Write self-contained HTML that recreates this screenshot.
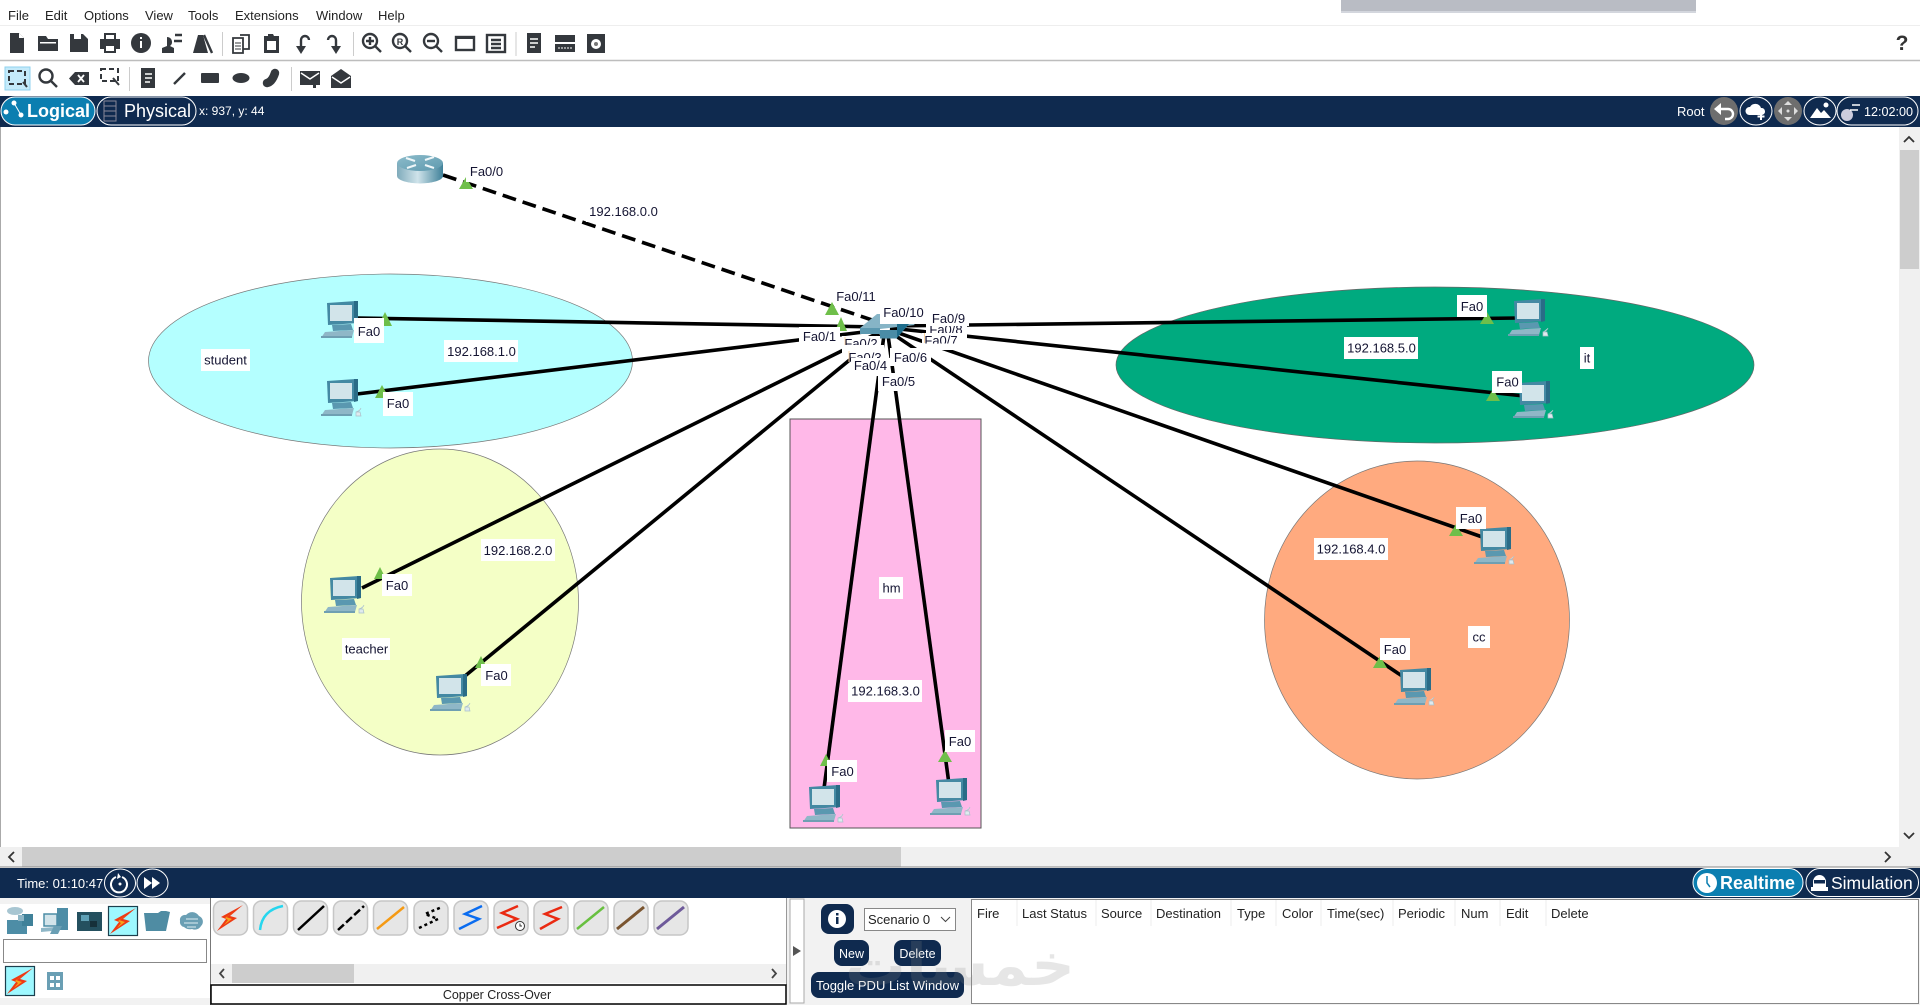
<!DOCTYPE html>
<html><head><meta charset="utf-8"><style>
html,body{margin:0;padding:0;background:#fff;overflow:hidden}
svg{display:block;font-family:"Liberation Sans",sans-serif}
.l{font-size:13px;fill:#141432}
.b{fill:#fff}
.m{font-size:13px;fill:#222}
.h{font-size:13px;fill:#222}
.c{stroke:#000;stroke-width:3.6;fill:none}
.t{fill:#6fbf4a}
.i{fill:#34383d}
.is{stroke:#34383d;stroke-width:2.4;fill:none}
.cb{fill:#e6e6e6;stroke:#c6c6c6;stroke-width:1.5}
</style></head><body>
<svg xmlns="http://www.w3.org/2000/svg" width="1920" height="1005" viewBox="0 0 1920 1005">
<defs>
<linearGradient id="rt" x1="0" x2="1" y1="0" y2="0"><stop offset="0" stop-color="#7fabbb"/><stop offset=".45" stop-color="#cfe3ea"/><stop offset="1" stop-color="#3f8199"/></linearGradient>
<linearGradient id="rtop" x1="0" x2="1" y1="0" y2="1"><stop offset="0" stop-color="#8dbccb"/><stop offset="1" stop-color="#5d99ae"/></linearGradient>
<symbol id="pc" viewBox="0 0 44 40" width="44" height="40">
<polygon points="7,3 36,1 38,2 38,23 8,25" fill="#4489a3"/>
<polygon points="34,1 38,1 38,23 34,24" fill="#2a6c87"/>
<rect x="10" y="5" width="22" height="16" fill="#d2e4ea"/>
<polygon points="12,25 31,24 33,30 13,31" fill="#5a98b0"/>
<polygon points="5,32 34,30 32,37 1,38" fill="#8fb7c7"/>
<rect x="1" y="36" width="31" height="2" fill="#6f9fb2"/>
<path d="M36,34q4-1 5-4M36,34h4l1,4h-5z" fill="#dfeaee" stroke="#a9c0ca" stroke-width=".7"/>
</symbol>
<symbol id="bolt" viewBox="0 0 30 30" width="30" height="30">
<polygon points="28,2 15,13 22,15 2,28 11,16 6,14" fill="#ee3a14"/>
<polygon points="19,9 11,14 17,16 9,22 13,17 10,15" fill="#f8a318"/>
</symbol>
</defs>

<!-- top chrome -->
<rect x="1341" y="0" width="355" height="13" fill="#b9bcc4"/>
<rect x="1341" y="11" width="355" height="2" fill="#d3d6dd"/>
<text class="m" x="8" y="20">File</text><text class="m" x="45" y="20">Edit</text><text class="m" x="84" y="20">Options</text><text class="m" x="145" y="20">View</text><text class="m" x="188" y="20">Tools</text><text class="m" x="235" y="20">Extensions</text><text class="m" x="316" y="20">Window</text><text class="m" x="378" y="20">Help</text>
<line x1="0" y1="25.5" x2="1920" y2="25.5" stroke="#eee"/>
<line x1="0" y1="60.5" x2="1920" y2="60.5" stroke="#bdbdbd" stroke-width="1.5"/>
<!-- toolbar 1 -->
<path class="i" d="M10,33h9l5,5v15H10z"/><path d="M19,33v5h5" fill="#fff"/>
<path class="i" d="M38,36h8l2,3h10v12H38z"/><rect x="40" y="42" width="16" height="1.500" fill="#fff"/>
<path class="i" d="M70,34h13l5,5v13H70z"/><rect x="74" y="34" width="7" height="5" fill="#fff"/>
<path class="i" d="M104,33h12v6h4v10h-4v4h-12v-4h-4V39h4z"/><rect x="106" y="35" width="8" height="4" fill="#fff"/><rect x="106" y="46" width="8" height="5" fill="#fff"/>
<circle class="i" cx="141" cy="43" r="10"/><rect x="140" y="41" width="2" height="7" fill="#fff"/><rect x="140" y="37" width="2" height="2" fill="#fff"/>
<path class="i" d="M167,37a5,5 0 0 1 3,9l4,2v5h-12v-5l5-2z"/><path class="is" d="M175,35h7M174,41h8" stroke-width="1.800"/>
<path class="i" d="M198,35h5l5,18h-15z"/><path d="M204,35l8,18" stroke="#34383d" stroke-width="2.400"/>
<line x1="222.500" y1="32" x2="222.500" y2="56" stroke="#ccc"/>
<path d="M233,38h10v15h-10zM240,35h9v14h-6" stroke="#34383d" stroke-width="1.800" fill="#fff"/><path d="M235,43h6M235,46h6M235,49h6" stroke="#34383d"/>
<path class="i" d="M264,36h4v-2h5l1,2h5v17h-15z"/><rect x="267" y="41" width="9" height="9" fill="#fff"/>
<path class="is" d="M301,48V40a4,4 0 0 1 8,0"/><polygon class="i" points="296,46 306,46 301,54"/>
<path class="is" d="M336,48V40a4,4 0 0 0-8,0"/><polygon class="i" points="331,46 341,46 336,54"/>
<line x1="353.500" y1="32" x2="353.500" y2="56" stroke="#ccc"/>
<circle class="is" cx="370" cy="41" r="7"/><line class="is" x1="375" y1="46" x2="381" y2="52"/><path class="is" d="M366,41h8M370,37v8" stroke-width="1.800"/>
<circle class="is" cx="400" cy="41" r="7"/><line class="is" x1="405" y1="46" x2="411" y2="52"/><text x="400" y="45" font-size="9" font-weight="bold" text-anchor="middle" fill="#34383d">R</text>
<circle class="is" cx="431" cy="41" r="7"/><line class="is" x1="436" y1="46" x2="442" y2="52"/><path class="is" d="M427,41h8" stroke-width="1.800"/>
<rect class="is" x="456" y="37" width="18" height="13"/><rect class="i" x="456" y="36" width="18" height="3"/>
<rect class="is" x="487" y="35" width="18" height="17"/><path class="is" d="M491,40h10M491,44h10M491,48h10" stroke-width="1.500"/>
<line x1="516" y1="32" x2="516" y2="56" stroke="#ccc"/>
<rect class="i" x="527" y="33" width="14" height="20"/><path d="M530,39h8M530,43h8M530,47h5" stroke="#fff" stroke-width="1.500"/>
<rect class="i" x="555" y="35" width="20" height="7"/><rect class="i" x="555" y="44" width="20" height="8"/><path d="M558,48h14" stroke="#fff" stroke-dasharray="2 1"/>
<rect class="i" x="587" y="34" width="18" height="19"/><circle cx="596" cy="44" r="5" fill="#fff"/><circle cx="596" cy="44" r="2" fill="#777"/>
<!-- toolbar 2 -->
<rect x="5" y="67" width="25" height="23" fill="#c4eafa" stroke="#8fd2ef"/>
<rect x="9" y="71" width="16" height="13" fill="none" stroke="#34383d" stroke-width="2" stroke-dasharray="5 3"/><path d="M23,82l4,5" stroke="#34383d" stroke-width="2"/>
<circle class="is" cx="46" cy="76" r="6.500"/><line class="is" x1="51" y1="81" x2="57" y2="87"/>
<path class="i" d="M75,72h14v13H75l-6-6.500z"/><path d="M78,75l6,7M84,75l-6,7" stroke="#fff" stroke-width="1.800"/>
<rect x="101" y="69" width="17" height="12" fill="none" stroke="#34383d" stroke-width="2" stroke-dasharray="5 3"/><path d="M113,78l6,7" stroke="#34383d" stroke-width="2"/>
<line x1="129.500" y1="67" x2="129.500" y2="91" stroke="#ccc"/>
<rect class="i" x="141" y="68" width="14" height="20"/><path d="M145,74h7M145,78h7M145,82h5" stroke="#fff" stroke-width="1.400"/>
<line class="is" x1="174" y1="84" x2="185" y2="73" stroke-width="3"/>
<rect class="i" x="201" y="73" width="18" height="10" rx="1"/>
<ellipse class="i" cx="241" cy="78" rx="8.500" ry="5"/>
<path d="M267,83 Q272,82 275,73" stroke="#34383d" stroke-width="8.500" fill="none" stroke-linecap="round"/>
<line x1="291.500" y1="67" x2="291.500" y2="91" stroke="#ccc"/>
<path class="i" d="M300,71h20v14h-4v3h-3v-3h-13z"/><path d="M301,73l9,6 9-6" stroke="#fff" stroke-width="1.500" fill="none"/>
<path class="i" d="M331,76l10-7 10,7v12h-20z"/><path d="M332,77l9,6 9-6" stroke="#fff" stroke-width="1.500" fill="none"/>
<text x="1902" y="50" font-size="21" font-weight="bold" text-anchor="middle" fill="#333">?</text>

<!-- nav bar -->
<rect x="0" y="96" width="1920" height="31" fill="#0f2a4f"/>
<rect x="1" y="97" width="94" height="28" rx="14" fill="#0b7eb0" stroke="#fff"/>
<circle cx="6" cy="112" r="2.500" fill="#fff"/><circle cx="14" cy="103" r="2.500" fill="#fff"/><circle cx="21" cy="115" r="2.500" fill="#fff"/>
<path d="M14,103L21,115" stroke="#fff" fill="none"/>
<text x="27" y="117" font-size="18" font-weight="bold" fill="#fff">Logical</text>
<rect x="97" y="97" width="99" height="28" rx="14" fill="#0f2a4f" stroke="#fff"/>
<rect x="104" y="101" width="12" height="20" fill="none" stroke="#889"/><path d="M104,106h12M104,111h12M104,116h12" stroke="#889"/>
<text x="124" y="117" font-size="18" fill="#fff">Physical</text>
<text x="199" y="115" font-size="12" fill="#fff">x: 937, y: 44</text>
<text x="1677" y="116" font-size="13" fill="#fff">Root</text>
<circle cx="1724" cy="111" r="14" fill="#6e6e6e"/><path d="M1716,109h12a5,5 0 0 1 0,10h-3" stroke="#fff" stroke-width="2.400" fill="none"/><polygon points="1714,109 1721,103 1721,115" fill="#fff"/>
<ellipse cx="1756" cy="111" rx="16" ry="14" fill="none" stroke="#fff"/><path d="M1749,115a4,4 0 0 1 1-8a6,6 0 0 1 11,1a3.500,3.500 0 0 1 1,7z" fill="#fff"/><path d="M1761,113v7M1757.500,116.500h7" stroke="#fff" stroke-width="2"/>
<circle cx="1788" cy="111" r="14" fill="#6e6e6e"/><polygon points="1788,101 1784,105 1792,105" fill="#ddd"/><polygon points="1788,121 1784,117 1792,117" fill="#ddd"/><polygon points="1778,111 1782,107 1782,115" fill="#ddd"/><polygon points="1798,111 1794,107 1794,115" fill="#ddd"/><circle cx="1788" cy="111" r="1.500" fill="#ddd"/>
<ellipse cx="1820" cy="111" rx="16" ry="14" fill="none" stroke="#fff"/><polygon points="1810,118 1817,108 1821,113 1824,110 1831,118" fill="#fff"/><circle cx="1826" cy="105" r="2.500" fill="#fff"/>
<rect x="1837" y="97" width="81" height="28" rx="14" fill="#0f2a4f" stroke="#fff"/>
<circle cx="1847" cy="115" r="6" fill="#ccd"/><path d="M1852,105h8M1850,110h8" stroke="#fff" stroke-width="1.500"/>
<text x="1864" y="116" font-size="12.600" fill="#fff">12:02:00</text>

<!-- canvas -->
<rect x="0" y="127" width="1899" height="720" fill="#fff"/>
<line x1="0.500" y1="127" x2="0.500" y2="847" stroke="#aaa"/>
<ellipse cx="390.500" cy="361" rx="242" ry="87" fill="#b4ffff" stroke="#777" stroke-width=".7"/>
<ellipse cx="440" cy="602" rx="138.500" ry="153" fill="#f4ffc6" stroke="#777" stroke-width=".7"/>
<rect x="790" y="419" width="191" height="409" fill="#ffb8e8" stroke="#555"/>
<ellipse cx="1435" cy="365" rx="319" ry="78" fill="#00aa7f" stroke="#666" stroke-width=".7"/>
<ellipse cx="1417" cy="620" rx="152.500" ry="159" fill="#ffaa7f" stroke="#777" stroke-width=".7"/>

<line class="c" x1="443" y1="175" x2="872" y2="320" stroke-dasharray="14 7"/>
<line class="c" x1="358" y1="318" x2="880" y2="327"/>
<line class="c" x1="357" y1="394" x2="880" y2="330"/>
<line class="c" x1="362" y1="588" x2="880" y2="332"/>
<line class="c" x1="465" y1="676" x2="880" y2="335"/>
<line class="c" x1="823" y1="796" x2="884" y2="335"/>
<line class="c" x1="949" y1="784" x2="888" y2="335"/>
<line class="c" x1="1408" y1="680" x2="890" y2="332"/>
<line class="c" x1="1488" y1="539" x2="890" y2="330"/>
<line class="c" x1="1524" y1="396" x2="890" y2="328"/>
<line class="c" x1="1518" y1="318" x2="890" y2="326"/>

<!-- router -->
<rect x="397" y="163" width="46" height="13" fill="url(#rt)"/>
<ellipse cx="420" cy="176" rx="23" ry="7.500" fill="url(#rt)"/>
<ellipse cx="420" cy="163" rx="23" ry="8" fill="url(#rtop)"/>
<path d="M406,158l9,3M434,157l-9,3M407,168l9-3M434,168l-9-3" stroke="#eef6f8" stroke-width="2"/>

<!-- switch -->
<polygon points="860,328 877,314 900,314 915,325 880,329" fill="#86b4c6"/>
<rect x="860" y="328" width="20" height="6" fill="#5b98b0"/>
<rect x="880" y="330" width="17" height="8.500" fill="#4a8ca6"/>
<polygon points="897,324 909,324 897,338" fill="#1e6d8c"/>

<!-- triangles -->
<g class="t">
<polygon points="466,177 459,189 473,189"/>
<polygon points="385,312 378,326 392,326"/>
<polygon points="382,385 375,398 389,398"/>
<polygon points="832,302 825,315 839,315"/>
<polygon points="841,317 835,331 847,331"/>
<polygon points="380,567 374,579 386,579"/>
<polygon points="481,656 475,668 487,668"/>
<polygon points="826,754 820,766 832,766"/>
<polygon points="945,750 938,762 952,762"/>
<polygon points="1456,524 1449,536 1463,536"/>
<polygon points="1380,656 1373,668 1387,668"/>
<polygon points="1487,312 1480,324 1494,324"/>
<polygon points="1493,389 1486,401 1500,401"/>
</g>

<!-- PCs -->
<use href="#pc" x="320" y="300"/>
<use href="#pc" x="320" y="378"/>
<use href="#pc" x="323" y="575"/>
<use href="#pc" x="429" y="673"/>
<use href="#pc" x="802" y="784"/>
<use href="#pc" x="929" y="777"/>
<use href="#pc" x="1473" y="526"/>
<use href="#pc" x="1393" y="667"/>
<use href="#pc" x="1507" y="298"/>
<use href="#pc" x="1512" y="380"/>

<!-- overlapped labels near the switch -->
<rect class="b" x="926" y="322" width="41" height="14"/>
<text class="l" x="946" y="334" text-anchor="middle">Fa0/8</text>
<rect class="b" x="922" y="333" width="45" height="17"/>
<text class="l" x="941" y="345" text-anchor="middle">Fa0/7</text>
<rect class="b" x="922" y="343.500" width="45" height="6"/>
<rect class="b" x="842" y="336" width="38" height="10"/>
<text class="l" x="861" y="348" text-anchor="middle">Fa0/2</text>
<rect class="b" x="842" y="345" width="42" height="13"/>
<text class="l" x="865" y="362" text-anchor="middle">Fa0/3</text>
<rect x="844.500" y="337" width="1" height="8" fill="#ffd9a8"/>
<rect x="848.500" y="351" width="1" height="11" fill="#ffd9a8"/>
<rect x="924" y="333" width="1" height="10" fill="#ffd9a8"/>

<!-- labels (white boxes) -->
<g class="b">
<rect x="466" y="162" width="41" height="20"/><rect x="586" y="200" width="75" height="22"/>
<rect x="834" y="288" width="44" height="18"/><rect x="880" y="304" width="47" height="20"/><rect x="928" y="309" width="41" height="17"/>
<rect x="890" y="348" width="41" height="18"/><rect x="799" y="327" width="41" height="18"/><rect x="851" y="358" width="39" height="18"/><rect x="878" y="373" width="40" height="18"/>
<rect x="354" y="318" width="30" height="25"/><rect x="383" y="392" width="30" height="24"/>
<rect x="444" y="340" width="74" height="22"/><rect x="201" y="349" width="49" height="22"/>
<rect x="382" y="574" width="30" height="22"/><rect x="481" y="539" width="74" height="22"/><rect x="342" y="638" width="48" height="22"/><rect x="481" y="664" width="30" height="22"/>
<rect x="879" y="577" width="24" height="22"/><rect x="848" y="680" width="74" height="22"/><rect x="827" y="760" width="30" height="22"/><rect x="945" y="730" width="30" height="22"/>
<rect x="1314" y="538" width="74" height="22"/><rect x="1456" y="507" width="30" height="22"/><rect x="1468" y="626" width="22" height="22"/><rect x="1380" y="638" width="30" height="22"/>
<rect x="1580" y="347" width="14" height="22"/><rect x="1344" y="337" width="74" height="22"/><rect x="1457" y="295" width="30" height="22"/><rect x="1492" y="371" width="30" height="22"/>
</g>
<g class="l" text-anchor="middle">
<text x="486.500" y="176">Fa0/0</text><text x="623.500" y="216">192.168.0.0</text>
<text x="856" y="301">Fa0/11</text><text x="903.500" y="317">Fa0/10</text><text x="948.500" y="323">Fa0/9</text>
<text x="910.500" y="362">Fa0/6</text><text x="819.500" y="341">Fa0/1</text><text x="870.500" y="370">Fa0/4</text><text x="898.500" y="386">Fa0/5</text>
<text x="369" y="336">Fa0</text><text x="398" y="408">Fa0</text>
<text x="481.500" y="356">192.168.1.0</text><text x="225.500" y="364.500">student</text>
<text x="397" y="590">Fa0</text><text x="518" y="555">192.168.2.0</text><text x="366.500" y="653.500">teacher</text><text x="496.500" y="680">Fa0</text>
<text x="891.500" y="592.500">hm</text><text x="885.500" y="695.500">192.168.3.0</text><text x="842.500" y="776">Fa0</text><text x="960" y="746">Fa0</text>
<text x="1351" y="553.500">192.168.4.0</text><text x="1471" y="523">Fa0</text><text x="1479" y="641.500">cc</text><text x="1395" y="654">Fa0</text>
<text x="1587" y="362.500">it</text><text x="1381.500" y="352.500">192.168.5.0</text><text x="1472" y="311">Fa0</text><text x="1507.500" y="386.500">Fa0</text>
</g>

<!-- scrollbars -->
<rect x="1899" y="127" width="21" height="720" fill="#f0f0f0"/>
<rect x="1900" y="150" width="19" height="119" fill="#cdcdcd"/>
<path d="M1904,142l5-5 5,5M1904,833l5,5 5-5" stroke="#333" stroke-width="1.800" fill="none"/>
<rect x="0" y="847" width="1920" height="20" fill="#f0f0f0"/>
<rect x="22" y="847" width="879" height="20" fill="#cdcdcd"/>
<path d="M14,852l-5,5 5,5M1885,852l5,5-5,5" stroke="#333" stroke-width="1.800" fill="none"/>
<line x1="0" y1="867" x2="1920" y2="867" stroke="#888"/>

<!-- time bar -->
<rect x="0" y="868" width="1920" height="30" fill="#0f2a4f"/>
<text x="17" y="888" font-size="13" fill="#fff">Time: 01:10:47</text>
<ellipse cx="120" cy="883" rx="15.500" ry="14" fill="#0f2a4f" stroke="#fff"/>
<path d="M116,877a8,8 0 1 0 6,0" fill="none" stroke="#fff" stroke-width="2"/><path d="M118,873l3,4-4,2z" fill="#fff"/><circle cx="120" cy="884" r="1.500" fill="#fff"/>
<ellipse cx="152.500" cy="883" rx="15.500" ry="14" fill="#0f2a4f" stroke="#fff"/>
<polygon points="144,877 152,883 144,889" fill="#fff"/><polygon points="152,877 160,883 152,889" fill="#fff"/>
<rect x="1693" y="868.500" width="110" height="28" rx="14" fill="#0b7eb0" stroke="#fff"/>
<circle cx="1707" cy="883" r="10" fill="#fff"/><path d="M1707,876v7l3,4" stroke="#0b7eb0" stroke-width="1.500" fill="none"/>
<text x="1720" y="889" font-size="18" font-weight="bold" fill="#fff">Realtime</text>
<rect x="1806" y="868.500" width="112.500" height="28" rx="14" fill="#0f2a4f" stroke="#fff"/>
<path d="M1813,882a6.500,7 0 0 1 13,0v5h2v4h-17v-4h2z" fill="#fff"/><rect x="1814" y="880" width="11" height="3.500" fill="#0f2a4f"/>
<text x="1831" y="889" font-size="17.500" fill="#fff">Simulation</text>

<!-- bottom panel -->
<rect x="0" y="898" width="1920" height="107" fill="#f2f2f2"/>
<rect x="0" y="904" width="210" height="94" fill="#fff"/>
<line x1="210.500" y1="898" x2="210.500" y2="1005" stroke="#777"/>
<!-- device categories -->
<rect x="7" y="920" width="20" height="14" fill="#4d8da6"/><rect x="22" y="914" width="11" height="12" fill="#3f8199"/><ellipse cx="15" cy="911" rx="8" ry="4" fill="#a8c6d2"/><rect x="18" y="915" width="6" height="6" fill="#8fb7c7"/>
<rect x="57" y="908" width="11" height="22" fill="#4d8da6"/><rect x="44" y="914" width="13" height="12" fill="#d2e4ea" stroke="#4d8da6" stroke-width="1.500"/><polygon points="41,928 55,927 52,931 41,932" fill="#8fb7c7"/><polygon points="54,926 62,926 58,934 50,934" fill="#6a9fb4"/>
<rect x="77" y="912" width="25" height="19" fill="#24505f"/><rect x="81" y="915" width="8" height="6" fill="#5fa0b5"/><rect x="90" y="921" width="7" height="6" fill="#16303a"/>
<rect x="108.500" y="906.500" width="29" height="29" fill="#9ef8ff" stroke="#1c3f4e" stroke-width="1.200"/><use href="#bolt" x="108" y="906"/>
<path d="M144,913h14l3-2h5l4,1-4,19h-20z" fill="#4f8ca3"/>
<path d="M180,921a5,5 0 0 1 6-6a8,8 0 0 1 13,1a6,6 0 0 1 2,10a7,7 0 0 1-9,3a9,9 0 0 1-8-2a5,5 0 0 1-4-6z" fill="#6a9fb4"/><path d="M186,919h12M184,923h14M187,927h9" stroke="#b8d3dd" stroke-width="1.500"/>
<rect x="3.500" y="939.500" width="203" height="23" fill="#fff" stroke="#888"/>
<rect x="5.500" y="966.500" width="29" height="29" fill="#9ef8ff" stroke="#1c3f4e" stroke-width="1.200"/><use href="#bolt" x="5" y="966"/>
<rect x="47" y="972" width="16" height="18" fill="#6a9fb4"/><rect x="50" y="976" width="4" height="4" fill="#fff"/><rect x="56" y="976" width="4" height="4" fill="#fff"/><rect x="50" y="983" width="4" height="4" fill="#fff"/><rect x="56" y="983" width="4" height="4" fill="#fff"/>

<!-- cables -->
<rect x="211" y="898" width="575" height="87" fill="#fff"/>
<line x1="786.500" y1="898" x2="786.500" y2="985" stroke="#999"/>
<g>
<rect class="cb" x="213.500" y="901" width="34" height="34" rx="8"/><rect class="cb" x="253.500" y="901" width="34" height="34" rx="8"/><rect class="cb" x="293.500" y="901" width="34" height="34" rx="8"/><rect class="cb" x="333.500" y="901" width="34" height="34" rx="8"/><rect class="cb" x="373.500" y="901" width="34" height="34" rx="8"/><rect class="cb" x="414" y="901" width="34" height="34" rx="8"/><rect class="cb" x="454" y="901" width="34" height="34" rx="8"/><rect class="cb" x="494" y="901" width="34" height="34" rx="8"/><rect class="cb" x="534" y="901" width="34" height="34" rx="8"/><rect class="cb" x="574" y="901" width="34" height="34" rx="8"/><rect class="cb" x="614" y="901" width="34" height="34" rx="8"/><rect class="cb" x="654" y="901" width="34" height="34" rx="8"/>
</g>
<use href="#bolt" x="215" y="903"/>
<path d="M260,930Q262,910 283,906" stroke="#26d6ee" stroke-width="2.500" fill="none"/>
<line x1="298" y1="930" x2="324" y2="906" stroke="#000" stroke-width="2.500"/>
<line x1="338" y1="930" x2="364" y2="906" stroke="#000" stroke-width="2.500" stroke-dasharray="8 3"/>
<line x1="377" y1="929" x2="404" y2="907" stroke="#f59a14" stroke-width="2.500"/>
<path d="M419,928L438,919 425,914 442,907" stroke="#000" stroke-width="2.500" stroke-dasharray="3 3" fill="none"/>
<path d="M459,929L479,919 465,914 482,906" stroke="#0a6cf0" stroke-width="2.500" fill="none"/>
<path d="M497,928L517,919 502,913 518,906" stroke="#ea2a12" stroke-width="2.500" fill="none"/>
<circle cx="520" cy="926" r="4.500" fill="#fff" stroke="#333"/><path d="M520,923.500v2.500h2" stroke="#333" fill="none"/>
<path d="M540,929L558,919 545,914 562,907" stroke="#ea2a12" stroke-width="2.500" fill="none"/>
<line x1="577" y1="929" x2="604" y2="907" stroke="#68c040" stroke-width="2.500"/>
<line x1="617" y1="929" x2="644" y2="907" stroke="#7a5530" stroke-width="3"/>
<line x1="657" y1="929" x2="684" y2="907" stroke="#6e5a9a" stroke-width="3"/>
<rect x="211" y="964" width="575" height="19" fill="#f0f0f0"/>
<rect x="232" y="964" width="122" height="19" fill="#cdcdcd"/>
<path d="M224,969l-4,4.500 4,4.500M772,969l4,4.500-4,4.500" stroke="#444" stroke-width="1.800" fill="none"/>
<rect x="211" y="985" width="575" height="19" fill="#fff" stroke="#000" stroke-width="1.500"/>
<text x="497" y="999" font-size="12.500" text-anchor="middle" fill="#222">Copper Cross-Over</text>

<!-- scenario -->
<rect x="790" y="899" width="14" height="104" fill="#fff" stroke="#aaa"/>
<polygon points="793,946 801,951 793,956" fill="#555"/>
<rect x="821" y="904" width="33" height="30" rx="8" fill="#0f2a4f"/>
<circle cx="837" cy="919" r="9" fill="#fff"/><rect x="836" y="917" width="2.500" height="7" fill="#0f2a4f"/><rect x="836" y="913" width="2.500" height="2.500" fill="#0f2a4f"/>
<rect x="864.500" y="908.500" width="91" height="22" fill="#fff" stroke="#888"/>
<text x="868" y="924" font-size="13" fill="#222">Scenario 0</text>
<path d="M941,917l4.500,4.500 4.500-4.500" stroke="#444" fill="none"/>
<rect x="834" y="940" width="35" height="26" rx="8" fill="#0f2a4f"/>
<text x="851.500" y="958" font-size="12.500" fill="#fff" text-anchor="middle">New</text>
<rect x="894" y="940" width="47" height="26" rx="8" fill="#0f2a4f"/>
<text x="917.500" y="958" font-size="12.500" fill="#fff" text-anchor="middle">Delete</text>
<rect x="811" y="972" width="153" height="26" rx="8" fill="#0f2a4f"/>
<text x="887.500" y="990" font-size="13" fill="#fff" text-anchor="middle">Toggle PDU List Window</text>

<!-- PDU table -->
<rect x="971.500" y="899.500" width="947" height="104" fill="#fff" stroke="#888"/>
<g class="h">
<text x="977" y="918">Fire</text><text x="1022" y="918">Last Status</text><text x="1101" y="918">Source</text><text x="1156" y="918">Destination</text><text x="1237" y="918">Type</text><text x="1282" y="918">Color</text><text x="1327" y="918">Time(sec)</text><text x="1398" y="918">Periodic</text><text x="1461" y="918">Num</text><text x="1506" y="918">Edit</text><text x="1551" y="918">Delete</text>
</g>
<path d="M1017,900v26M1096,900v26M1151,900v26M1231,900v26M1276,900v26M1321,900v26M1393,900v26M1455,900v26M1500,900v26M1546,900v26" stroke="#eee"/>

<!-- watermark -->
<text x="845" y="985" font-size="58" font-weight="bold" textLength="230" lengthAdjust="spacingAndGlyphs" fill="#888" opacity=".2" font-family="'DejaVu Sans',sans-serif">خمسات</text>
</svg>
</body></html>
